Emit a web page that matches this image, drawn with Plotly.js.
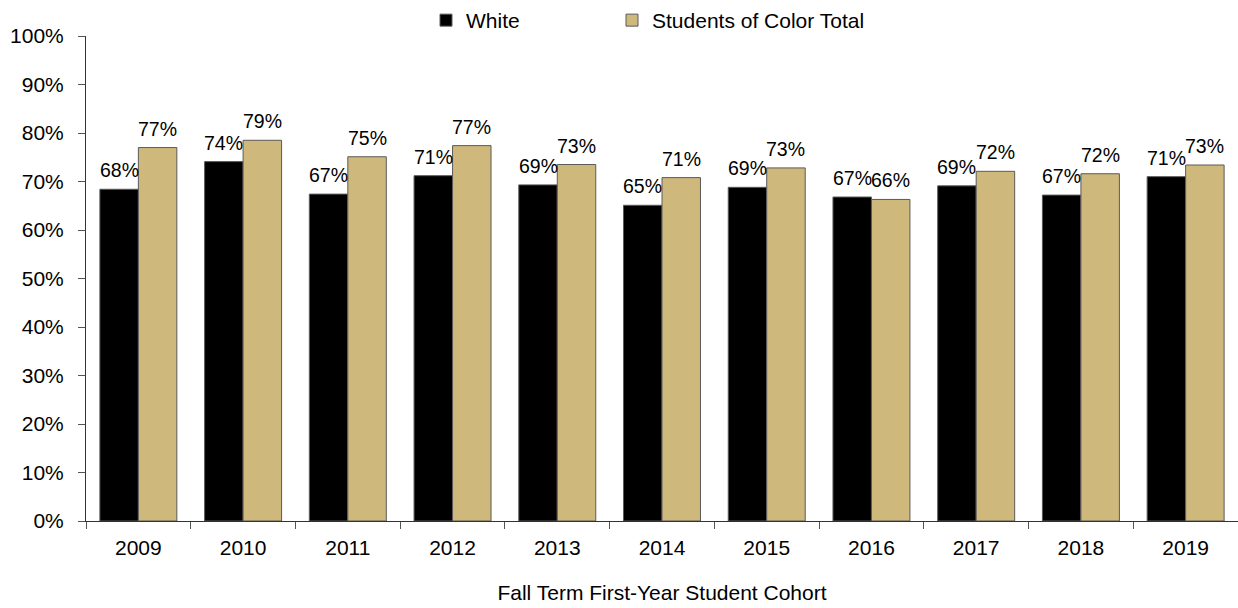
<!DOCTYPE html>
<html>
<head>
<meta charset="utf-8">
<script src="https://cdn.plot.ly/plotly-3.0.1.min.js"></script>
<style>
html, body { margin: 0; padding: 0; background: #fff; }
#chart { width: 1238px; height: 608px; }
</style>
</head>
<body>
<div id="chart"></div>
<script>
// ---- data ----
var cohorts = ['2009', '2010', '2011', '2012', '2013', '2014', '2015', '2016', '2017', '2018', '2019'];
var white = [68.4, 74.1, 67.4, 71.2, 69.3, 65.1, 68.8, 66.8, 69.1, 67.2, 71.0];
var studentsOfColor = [77.0, 78.5, 75.1, 77.4, 73.5, 70.8, 72.8, 66.3, 72.1, 71.6, 73.4];
var whiteLabels = ['68%', '74%', '67%', '71%', '69%', '65%', '69%', '67%', '69%', '67%', '71%'];
var socLabels = ['77%', '79%', '75%', '77%', '73%', '71%', '73%', '66%', '72%', '72%', '73%'];
var seriesNames = ['White', 'Students of Color Total'];
var yTickVals = [0, 10, 20, 30, 40, 50, 60, 70, 80, 90, 100];
var yTickText = ['0%', '10%', '20%', '30%', '40%', '50%', '60%', '70%', '80%', '90%', '100%'];
var xTitle = 'Fall Term First-Year Student Cohort';

// ---- style ----
var FONT = '"Liberation Sans", Arial, Helvetica, sans-serif';
var GOLD = '#CFB87C';
var OUTLINE = '#5a5a5a';
var W = 1238, H = 608;
var ML = 86, MR = 0, MT = 36, MB = 87;
var BARGAP = 0.265;
var catPx = (W - ML - MR) / cohorts.length;
var barPx = catPx * (1 - BARGAP) / 2;

var traces = [
  {
    type: 'bar', name: seriesNames[0], x: cohorts, y: white,
    marker: { color: '#000000', line: { color: OUTLINE, width: 1 } },
    legend: 'legend', hoverinfo: 'skip'
  },
  {
    type: 'bar', name: seriesNames[1], x: cohorts, y: studentsOfColor,
    marker: { color: GOLD, line: { color: OUTLINE, width: 1 } },
    legend: 'legend2', hoverinfo: 'skip'
  }
];

var annotations = [];
for (var i = 0; i < cohorts.length; i++) {
  annotations.push({
    x: i, y: white[i], xref: 'x', yref: 'y', text: whiteLabels[i],
    showarrow: false, xanchor: 'center', yanchor: 'middle',
    xshift: -barPx / 2, yshift: 19,
    font: { family: FONT, size: 19.5, color: '#000' }
  });
  annotations.push({
    x: i, y: studentsOfColor[i], xref: 'x', yref: 'y', text: socLabels[i],
    showarrow: false, xanchor: 'center', yanchor: 'middle',
    xshift: barPx / 2, yshift: 19,
    font: { family: FONT, size: 19.5, color: '#000' }
  });
}

function legendBox(xPx) {
  return {
    orientation: 'h', xref: 'container', yref: 'container',
    x: xPx / W, y: 1, xanchor: 'left', yanchor: 'top',
    font: { family: FONT, size: 21, color: '#000' },
    bgcolor: 'rgba(0,0,0,0)', borderwidth: 0
  };
}

var layout = {
  width: W, height: H,
  margin: { l: ML, r: MR, t: MT, b: MB, pad: 0, autoexpand: false },
  paper_bgcolor: '#ffffff', plot_bgcolor: '#ffffff',
  font: { family: FONT, size: 21, color: '#000' },
  barmode: 'group', bargap: BARGAP, bargroupgap: 0,
  showlegend: true,
  legend: legendBox(426),
  legend2: legendBox(612),
  xaxis: {
    type: 'category', range: [-0.5, cohorts.length - 0.5],
    showline: true, linecolor: '#333333', linewidth: 1,
    ticks: 'outside', tickson: 'boundaries', ticklen: 7, tickcolor: '#555555', tickwidth: 1,
    ticklabelstandoff: 8,
    showgrid: false, zeroline: false,
    tickfont: { family: FONT, size: 21, color: '#000' },
    title: { text: xTitle, font: { family: FONT, size: 21, color: '#000' }, standoff: 27 },
    fixedrange: true
  },
  yaxis: {
    range: [0, 100], tickvals: yTickVals, ticktext: yTickText,
    showline: true, linecolor: '#333333', linewidth: 1,
    ticks: 'outside', ticklen: 7, tickcolor: '#555555', tickwidth: 1,
    ticklabelstandoff: 10,
    showgrid: false, zeroline: false,
    tickfont: { family: FONT, size: 21, color: '#000' },
    fixedrange: true
  },
  annotations: annotations
};

Plotly.newPlot('chart', traces, layout, { displayModeBar: false, staticPlot: true });
</script>
</body>
</html>
